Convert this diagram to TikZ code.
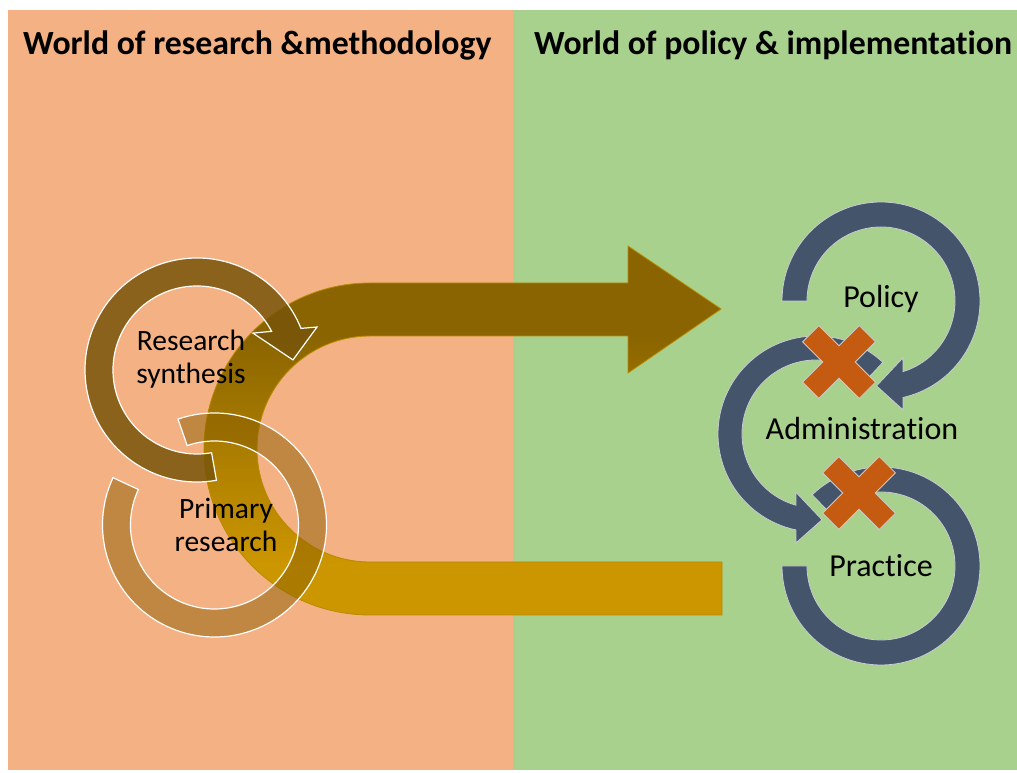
\documentclass[tikz,border=0pt]{standalone}
\usepackage{fontspec}
\setmainfont{Carlito}[Ligatures=NoCommon]
\definecolor{orangepanel}{HTML}{F4B183}
\definecolor{greenpanel}{HTML}{A9D18E}
\definecolor{slate}{HTML}{44546A}
\definecolor{rust}{HTML}{C55A11}
\definecolor{golddark}{HTML}{8A6400}
\definecolor{goldlight}{HTML}{CC9600}
\definecolor{goldedge}{HTML}{B88A00}
\definecolor{synth}{HTML}{78550A}
\definecolor{primary}{HTML}{8C5F00}
\pgfdeclareverticalshading{goldband}{100bp}{color(0bp)=(goldlight); color(32bp)=(goldlight); color(63bp)=(golddark); color(100bp)=(golddark)}

\begin{document}
\begin{tikzpicture}[x=1pt,y=1pt,
	titletext/.style={font=\fontsize{33.8}{40}\selectfont\bfseries,inner sep=0pt},
	looptext/.style={font=\fontsize{29.5}{33}\selectfont,align=center,inner sep=0pt},
	worldtext/.style={font=\fontsize{32}{36}\selectfont,inner sep=0pt},
	brownloop/.style={draw=white,line width=1.2pt},
	blueloop/.style={fill=slate,draw=white!70!slate,line width=0.8pt},
	crossmark/.style={fill=rust,draw=white!60!gray,line width=0.8pt}]
	\def\armw{11.5}
	\def\armlen{40}
	\useasboundingbox (0,0) rectangle (1017,773);
	\fill[white] (0,0) rectangle (1017,773);
	% the two worlds
	\fill[orangepanel] (8,3) rectangle (513,763);
	\fill[greenpanel] (513,3) rectangle (1017,763);
	\node[titletext,anchor=base west] (lefttitle) at (23,718) {World of research \&methodology};
	\node[titletext,anchor=base west] (righttitle) at (534,718) {World of policy \& implementation};
	% big U arrow
	\shadedraw[shading=goldband,draw=goldedge,line width=0.8pt] (722,158) -- (722,211) -- (370,211)
		arc[start angle=-90,end angle=-270,radius=113] -- (628,437) -- (628,400) -- (721,464)
		-- (628,527) -- (628,490) -- (370,490) arc[start angle=90,end angle=270,radius=166] -- cycle;
	% research synthesis loop
	\filldraw[brownloop,fill=synth,fill opacity=0.85] ([shift={(197,403)}]-80:112)
		arc[start angle=-80,end angle=-338.2,radius=112] -- ([shift={(197,403)}]19.7:127.5)
		-- ([shift={(197,403)}]6:96.5) -- ([shift={(197,403)}]33.4:67) -- ([shift={(197,403)}]27.4:84)
		arc[start angle=27.4,end angle=280,radius=84] -- cycle;
	% primary research loop
	\filldraw[brownloop,fill=primary,fill opacity=0.5] ([shift={(214.5,248)}]109:112)
		arc[start angle=109,end angle=-205,radius=112] -- ([shift={(214.5,248)}]-205:84)
		arc[start angle=-205,end angle=109,radius=84] -- cycle;
	\node[looptext,anchor=base] (synthesis) at (191,389) {Research\\synthesis};
	\node[looptext,anchor=base] (primaryres) at (226,221) {Primary\\research};
	% policy loop
	\filldraw[blueloop] ([shift={(881,472)}]180:99) arc[start angle=180,end angle=-77.2,radius=99]
		-- ([shift={(881,472)}]-78.6:111) -- ([shift={(881,472)}]-93:85) -- ([shift={(881,472)}]-69:61)
		-- ([shift={(881,472)}]-72.7:74) arc[start angle=-72.7,end angle=180,radius=74] -- cycle;
	% administration loop
	\filldraw[blueloop] ([shift={(816,339)}]47:98) arc[start angle=47,end angle=258.2,radius=98]
		-- ([shift={(816,339)}]259.6:110.6) -- ([shift={(816,339)}]274:86) -- ([shift={(816,339)}]251.1:61.7)
		-- ([shift={(816,339)}]254.3:74) arc[start angle=254.3,end angle=47,radius=74] -- cycle;
	% practice loop
	\filldraw[blueloop] ([shift={(881,207)}]134:99) arc[start angle=134,end angle=-180,radius=99]
		-- ([shift={(881,207)}]-180:74) arc[start angle=-180,end angle=134,radius=74] -- cycle;
	% broken links
	\filldraw[crossmark,shift={(839,411)},rotate=45] (\armlen,\armw) -- (\armw,\armw) -- (\armw,\armlen) -- (-\armw,\armlen)
		-- (-\armw,\armw) -- (-\armlen,\armw) -- (-\armlen,-\armw) -- (-\armw,-\armw) -- (-\armw,-\armlen)
		-- (\armw,-\armlen) -- (\armw,-\armw) -- (\armlen,-\armw) -- cycle;
	\filldraw[crossmark,shift={(859,280)},rotate=45] (\armlen,\armw) -- (\armw,\armw) -- (\armw,\armlen) -- (-\armw,\armlen)
		-- (-\armw,\armw) -- (-\armlen,\armw) -- (-\armlen,-\armw) -- (-\armw,-\armw) -- (-\armw,-\armlen)
		-- (\armw,-\armlen) -- (\armw,-\armw) -- (\armlen,-\armw) -- cycle;
	\node[worldtext,anchor=base] (policy) at (881,465) {Policy};
	\node[worldtext,anchor=base] (admin) at (862,333) {Administration};
	\node[worldtext,anchor=base] (practice) at (881,196) {Practice};
\end{tikzpicture}
\end{document}
